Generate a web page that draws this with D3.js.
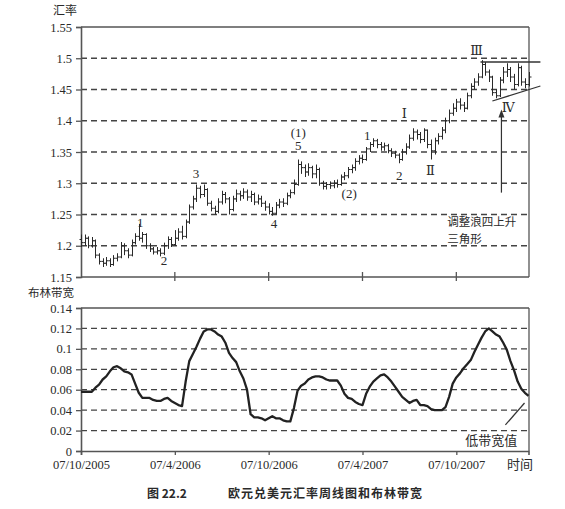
<!DOCTYPE html>
<html><head><meta charset="utf-8">
<script src="https://cdn.jsdelivr.net/npm/d3@7"></script>
<style>body{margin:0;background:#fff}svg{display:block}</style>
</head><body><svg id="c" width="565" height="509"></svg>
<script>
// ---------- data ----------
const xTickWeeks = [0, 26, 52, 78, 104];
const xTickLabels = ["07/10/2005", "07/4/2006", "07/10/2006", "07/4/2007", "07/10/2007"];
const priceTicks = [1.15, 1.2, 1.25, 1.3, 1.35, 1.4, 1.45, 1.5, 1.55];
const bwTicks = [0, 0.02, 0.04, 0.06, 0.08, 0.1, 0.12, 0.14];

const opens = [1.210,1.205,1.212,1.200,1.208,1.185,1.175,1.172,1.176,1.170,1.180,1.182,1.200,1.192,1.185,1.205,1.215,1.212,1.218,1.200,1.195,1.190,1.192,1.188,1.200,1.210,1.202,1.212,1.222,1.215,1.238,1.262,1.275,1.292,1.282,1.290,1.268,1.260,1.255,1.270,1.282,1.275,1.258,1.275,1.283,1.280,1.286,1.278,1.282,1.270,1.275,1.268,1.262,1.255,1.252,1.265,1.270,1.268,1.280,1.285,1.298,1.330,1.325,1.318,1.325,1.315,1.322,1.300,1.295,1.298,1.296,1.300,1.298,1.310,1.312,1.322,1.325,1.335,1.340,1.338,1.355,1.362,1.368,1.362,1.358,1.360,1.352,1.348,1.345,1.338,1.350,1.358,1.372,1.382,1.378,1.370,1.385,1.362,1.352,1.368,1.375,1.385,1.400,1.412,1.420,1.430,1.425,1.420,1.440,1.455,1.462,1.470,1.490,1.478,1.470,1.445,1.440,1.465,1.478,1.482,1.470,1.458,1.485,1.462,1.458];
const highs = [1.218,1.218,1.215,1.214,1.210,1.188,1.180,1.182,1.180,1.185,1.188,1.206,1.204,1.196,1.210,1.220,1.235,1.222,1.220,1.204,1.198,1.198,1.196,1.205,1.215,1.214,1.225,1.228,1.232,1.242,1.266,1.280,1.298,1.296,1.298,1.292,1.272,1.264,1.276,1.288,1.286,1.278,1.280,1.290,1.288,1.292,1.290,1.288,1.285,1.282,1.280,1.272,1.268,1.262,1.270,1.275,1.276,1.285,1.290,1.306,1.338,1.335,1.330,1.332,1.328,1.330,1.325,1.304,1.302,1.303,1.305,1.306,1.314,1.318,1.326,1.330,1.340,1.345,1.346,1.358,1.366,1.372,1.371,1.366,1.365,1.363,1.356,1.352,1.348,1.355,1.364,1.378,1.388,1.386,1.382,1.388,1.386,1.370,1.373,1.380,1.390,1.405,1.418,1.428,1.435,1.436,1.430,1.445,1.460,1.468,1.476,1.497,1.494,1.482,1.472,1.450,1.470,1.486,1.492,1.486,1.475,1.492,1.488,1.468,1.478];
const lows = [1.198,1.200,1.196,1.197,1.180,1.170,1.166,1.168,1.166,1.168,1.175,1.180,1.185,1.180,1.183,1.202,1.208,1.205,1.195,1.190,1.186,1.186,1.183,1.185,1.195,1.198,1.200,1.208,1.210,1.212,1.235,1.258,1.270,1.276,1.278,1.264,1.255,1.250,1.252,1.266,1.268,1.250,1.255,1.270,1.272,1.275,1.272,1.270,1.265,1.266,1.262,1.256,1.250,1.248,1.250,1.260,1.262,1.265,1.276,1.282,1.296,1.315,1.310,1.312,1.308,1.308,1.296,1.290,1.290,1.291,1.292,1.293,1.296,1.305,1.308,1.316,1.320,1.330,1.332,1.336,1.350,1.358,1.356,1.352,1.352,1.348,1.342,1.340,1.332,1.336,1.346,1.355,1.368,1.370,1.364,1.366,1.356,1.338,1.346,1.362,1.370,1.380,1.396,1.408,1.414,1.418,1.414,1.418,1.436,1.450,1.456,1.468,1.472,1.462,1.440,1.436,1.438,1.460,1.470,1.462,1.450,1.455,1.456,1.452,1.455];
const closes = [1.205,1.212,1.200,1.208,1.185,1.175,1.172,1.176,1.170,1.180,1.182,1.200,1.192,1.185,1.205,1.215,1.212,1.218,1.200,1.195,1.190,1.192,1.188,1.200,1.210,1.202,1.212,1.222,1.215,1.238,1.262,1.275,1.292,1.282,1.290,1.268,1.260,1.255,1.270,1.282,1.275,1.258,1.275,1.283,1.280,1.286,1.278,1.282,1.270,1.275,1.268,1.262,1.255,1.252,1.265,1.270,1.268,1.280,1.285,1.298,1.330,1.325,1.318,1.325,1.315,1.322,1.300,1.295,1.298,1.296,1.300,1.298,1.310,1.312,1.322,1.325,1.335,1.340,1.338,1.355,1.362,1.368,1.362,1.358,1.360,1.352,1.348,1.345,1.338,1.350,1.358,1.372,1.382,1.378,1.370,1.385,1.362,1.352,1.368,1.375,1.385,1.400,1.412,1.420,1.430,1.425,1.420,1.440,1.455,1.462,1.470,1.490,1.478,1.470,1.445,1.440,1.465,1.478,1.482,1.470,1.458,1.485,1.462,1.458,1.470];

const bandwidth = [0.058,0.058,0.058,0.058,0.062,0.065,0.070,0.073,0.078,0.082,0.083,0.081,0.078,0.077,0.075,0.066,0.057,0.052,0.052,0.052,0.050,0.049,0.049,0.051,0.052,0.049,0.047,0.045,0.044,0.068,0.088,0.095,0.102,0.110,0.117,0.119,0.119,0.117,0.114,0.112,0.106,0.096,0.091,0.087,0.078,0.071,0.060,0.036,0.033,0.033,0.032,0.030,0.032,0.034,0.032,0.032,0.030,0.029,0.029,0.042,0.059,0.064,0.066,0.070,0.072,0.073,0.073,0.072,0.070,0.069,0.069,0.069,0.064,0.056,0.052,0.051,0.048,0.046,0.045,0.056,0.063,0.068,0.071,0.074,0.075,0.072,0.068,0.063,0.058,0.053,0.050,0.047,0.049,0.050,0.045,0.045,0.044,0.041,0.040,0.040,0.040,0.043,0.053,0.066,0.072,0.076,0.081,0.085,0.089,0.097,0.104,0.111,0.117,0.120,0.117,0.114,0.112,0.106,0.099,0.088,0.079,0.068,0.061,0.057,0.054];

// wave labels: [text, week, price]
const waveLabels = [["1",16.4,1.238],["2",23,1.177],["3",31.9,1.315],["4",53.5,1.236],["5",60.2,1.360],["(1)",60.2,1.382],["(2)",74.3,1.284],["1",79.3,1.377],["2",88.2,1.313]];
const romanLabels = [["Ⅰ",89.6,1.412],["Ⅱ",96.8,1.321],["Ⅲ",109.6,1.513],["Ⅳ",118.4,1.422]];
const triangleLines = [[[110.7,1.494],[127.3,1.494]],[[114,1.4316],[127.3,1.4556]]];
const arrowLine = [[116.5,1.285],[116.5,1.418]];
const noteText = ["调整浪四上升","三角形"];
const noteAnchor = [101.5, 1.238];
const lowNote = ["低带宽值", 106.5, 0.0108];
const lowPointer = [[117.6,0.0255],[122.9,0.047]];

// ---------- drawing ----------
const svg = d3.select("#c");
const L = 81, R = 529;
const x = d3.scaleLinear().domain([0, 124]).range([L, R - 0.5]);
const yP = d3.scaleLinear().domain([1.15, 1.55]).range([277, 27]);
const yB = d3.scaleLinear().domain([0, 0.14]).range([451, 308]);
const serif = "'Liberation Serif','Times New Roman',serif";
const cjk = "'Noto Sans CJK SC',sans-serif";
const ink = "#2a2a2a";
const fmt = d => String(+d.toFixed(2));

function panel(y, ticks, top, bottom) {
  const g = svg.append("g");
  g.selectAll("line.grid").data(ticks.slice(1, -1)).join("line")
    .attr("x1", L).attr("x2", R).attr("y1", d => y(d)).attr("y2", d => y(d))
    .attr("stroke", "#444").attr("stroke-width", 1.3).attr("stroke-dasharray", "6,4");
  g.append("line").attr("x1", L).attr("x2", R).attr("y1", top).attr("y2", top).attr("stroke", "#555").attr("stroke-width", 1.3);
  g.append("line").attr("x1", R).attr("x2", R).attr("y1", top).attr("y2", bottom).attr("stroke", "#555").attr("stroke-width", 1.3);
  const ay = g.append("g").attr("transform", `translate(${L},0)`)
    .call(d3.axisLeft(y).tickValues(ticks).tickFormat(fmt).tickSize(5).tickPadding(4));
  ay.select(".domain").attr("stroke", "#555").attr("stroke-width", 1.6);
  ay.selectAll(".tick line").attr("stroke", "#555").attr("stroke-width", 1.3);
  ay.selectAll("text").attr("font-family", serif).attr("font-size", 12.5).attr("fill", ink);
  return g;
}

// top panel
const gt = panel(yP, priceTicks, 27, 277);
gt.append("line").attr("x1", L).attr("x2", R).attr("y1", 277).attr("y2", 277).attr("stroke", "#555").attr("stroke-width", 1.6);
gt.selectAll("line.xt").data(xTickWeeks.slice(1)).join("line")
  .attr("x1", d => x(d)).attr("x2", d => x(d)).attr("y1", 272).attr("y2", 281)
  .attr("stroke", "#555").attr("stroke-width", 1.3);

// OHLC bars
const bars = gt.append("g").attr("stroke", ink).attr("stroke-width", 1);
closes.forEach((c, i) => {
  const cx = Math.round(x(i)) + 0.5;
  bars.append("line").attr("x1", cx).attr("x2", cx).attr("y1", yP(highs[i])).attr("y2", yP(lows[i]));
  bars.append("line").attr("x1", cx - 2).attr("x2", cx).attr("y1", yP(opens[i])).attr("y2", yP(opens[i]));
  bars.append("line").attr("x1", cx).attr("x2", cx + 2).attr("y1", yP(c)).attr("y2", yP(c));
});

gt.selectAll("text.w").data(waveLabels).join("text")
  .attr("x", d => x(d[1])).attr("y", d => yP(d[2])).attr("dy", "0.35em")
  .attr("text-anchor", "middle").attr("font-family", serif).attr("font-size", 13).attr("fill", ink)
  .text(d => d[0]);
gt.selectAll("text.r").data(romanLabels).join("text")
  .attr("x", d => x(d[1])).attr("y", d => yP(d[2])).attr("dy", "0.35em")
  .attr("text-anchor", "middle").attr("font-family", "'DejaVu Serif','Noto Sans CJK SC',serif").attr("font-size", 13).attr("fill", ink)
  .text(d => d[0]);
triangleLines.forEach(seg => {
  gt.append("line").attr("x1", x(seg[0][0])).attr("y1", yP(seg[0][1]))
    .attr("x2", x(seg[1][0])).attr("y2", yP(seg[1][1])).attr("stroke", "#333").attr("stroke-width", 1.3);
});
const ax = x(arrowLine[0][0]), ay0 = yP(arrowLine[0][1]), ay1 = yP(arrowLine[1][1]);
gt.append("line").attr("x1", ax).attr("x2", ax).attr("y1", ay0).attr("y2", ay1 + 4).attr("stroke", "#333").attr("stroke-width", 1.2);
gt.append("path").attr("d", `M${ax},${ay1} L${ax - 3},${ay1 + 8} L${ax + 3},${ay1 + 8} Z`).attr("fill", "#333");
noteText.forEach((t, i) => {
  gt.append("text").attr("x", x(noteAnchor[0])).attr("y", yP(noteAnchor[1]) + i * 17).attr("dy", "0.35em")
    .attr("font-family", cjk).attr("font-size", 11.5).attr("fill", ink).text(t);
});
svg.append("text").attr("x", 53).attr("y", 15).attr("font-family", cjk).attr("font-size", 12).attr("fill", ink).text("汇率");

// bottom panel
const gb = panel(yB, bwTicks, 308, 451);
const axb = gb.append("g").attr("transform", "translate(0,451)")
  .call(d3.axisBottom(x).tickValues(xTickWeeks).tickFormat((d, i) => xTickLabels[i]).tickSize(4).tickPadding(5.5));
axb.select(".domain").attr("stroke", "#555").attr("stroke-width", 1.6);
axb.selectAll(".tick line").attr("stroke", "#555").attr("stroke-width", 1.3);
axb.selectAll("text").attr("font-family", serif).attr("font-size", 12.5).attr("fill", ink);
gb.append("path").datum(bandwidth)
  .attr("d", d3.line().x((d, i) => x(i)).y(d => yB(d)))
  .attr("fill", "none").attr("stroke", "#222").attr("stroke-width", 2.3).attr("stroke-linejoin", "round");
gb.append("text").attr("x", x(lowNote[1])).attr("y", yB(lowNote[2])).attr("dy", "0.35em")
  .attr("font-family", cjk).attr("font-size", 13).attr("fill", ink).text(lowNote[0]);
gb.append("line").attr("x1", x(lowPointer[0][0])).attr("y1", yB(lowPointer[0][1]))
  .attr("x2", x(lowPointer[1][0])).attr("y2", yB(lowPointer[1][1])).attr("stroke", "#333").attr("stroke-width", 1.2);
svg.append("text").attr("x", 507).attr("y", 469).attr("font-family", cjk).attr("font-size", 13).attr("fill", ink).text("时间");
svg.append("text").attr("x", 28).attr("y", 297).attr("font-family", cjk).attr("font-size", 11.5).attr("fill", ink).text("布林带宽");

// caption
svg.append("text").attr("x", 147).attr("y", 498).attr("font-family", cjk).attr("font-weight", "bold")
  .attr("font-size", 12).attr("fill", ink).text("图 22.2");
svg.append("text").attr("x", 228).attr("y", 498).attr("font-family", cjk).attr("font-weight", "bold")
  .attr("font-size", 12).attr("letter-spacing", 1).attr("fill", ink).text("欧元兑美元汇率周线图和布林带宽");
</script>
</body></html>
